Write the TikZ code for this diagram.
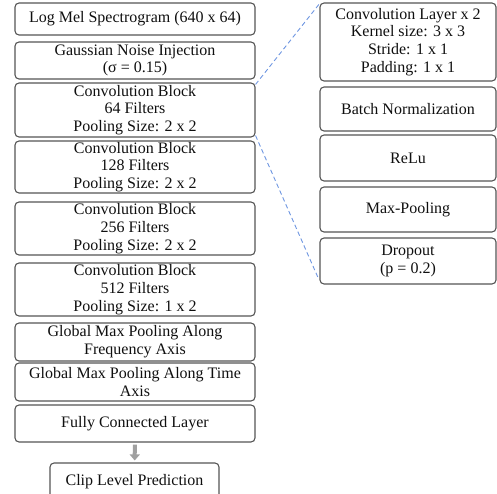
\documentclass[tikz,border=0pt]{standalone}
\usepackage{fontspec}
\setmainfont{Liberation Serif}
\usetikzlibrary{arrows.meta}
\definecolor{edge}{RGB}{85,85,85}
\definecolor{txt}{RGB}{15,15,15}
\definecolor{dashblue}{RGB}{110,150,225}
\definecolor{arrowgray}{RGB}{160,160,160}
\tikzset{
  box/.style={draw=edge, line width=1.1pt, rounded corners=4pt, align=center,
    text=txt, inner sep=0pt, font=\fontsize{16}{17.7}\selectfont},
  lbox/.style={box, minimum width=240pt},
  rbox/.style={box, minimum width=176pt},
  zoomline/.style={draw=dashblue, line width=0.9pt, dash pattern=on 4.5pt off 3pt},
  flowarrow/.style={draw=arrowgray, line width=4pt, -{Triangle[width=10pt,length=6pt]}}
}
\begin{document}
\begin{tikzpicture}[x=1pt,y=-1pt]
\useasboundingbox (0,0) rectangle (497,494);
\clip (0,0) rectangle (497,494);
% left column
\node[lbox, minimum height=32pt] (n1) at (135,19) {Log Mel Spectrogram (640 x 64)};
\node[lbox, minimum height=37pt] (n2) at (135,60.5) {Gaussian Noise Injection\\(σ = 0.15)};
\node[lbox, minimum height=54pt] (n3) at (135,110) {Convolution Block\\64 Filters\\Pooling Size: 2 x 2};
\node[lbox, minimum height=52pt] (n4) at (135,167) {Convolution Block\\128 Filters\\Pooling Size: 2 x 2};
\node[lbox, minimum height=53pt] (n5) at (135,228.5) {Convolution Block\\256 Filters\\Pooling Size: 2 x 2};
\node[lbox, minimum height=53pt] (n6) at (135,289.5) {Convolution Block\\512 Filters\\Pooling Size: 1 x 2};
\node[lbox, minimum height=38pt] (n7) at (135,342) {Global Max Pooling Along\\Frequency Axis};
\node[lbox, minimum height=38pt] (n8) at (135,382) {Global Max Pooling Along Time\\Axis};
\node[lbox, minimum height=37pt] (n9) at (135,423.5) {Fully Connected Layer};
\node[box, minimum width=169pt, minimum height=37pt] (n10) at (134.5,481.5) {Clip Level Prediction};
\draw[flowarrow, shorten <=2pt, shorten >=2pt] (n9) -- (n10);
% right column
\node[rbox, minimum height=78pt] (r1) at (408,42) {Convolution Layer x 2\\Kernel size: 3 x 3\\Stride: 1 x 1\\Padding: 1 x 1};
\node[rbox, minimum height=44pt] (r2) at (408,109) {Batch Normalization};
\node[rbox, minimum height=46pt] (r3) at (408,158) {ReLu};
\node[rbox, minimum height=45pt] (r4) at (408,209.5) {Max-Pooling};
\node[rbox, minimum height=46pt] (r5) at (408,261) {Dropout\\(p = 0.2)};
% zoom lines
\draw[zoomline] ([yshift=-2pt]n3.north east) -- ([xshift=1pt]r1.north west);
\draw[zoomline] ([yshift=2pt]n3.south east) -- ([xshift=-1pt,yshift=6pt]r5.south west);
\end{tikzpicture}
\end{document}
